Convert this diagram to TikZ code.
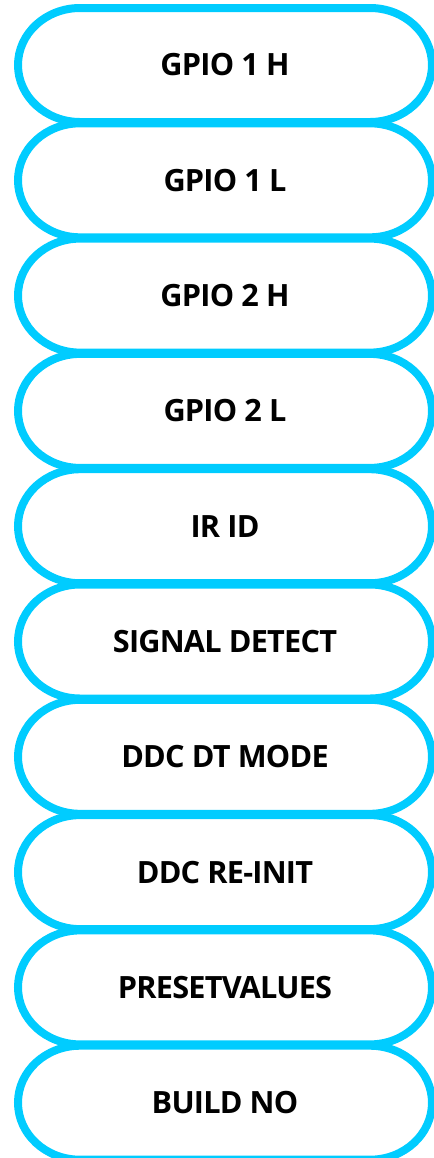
\documentclass[tikz,border=0pt]{standalone}
\usepackage{fontspec}
\setmainfont{Open Sans}
\newfontfamily\pillfont[LetterSpace=-2.5]{Open Sans}
\definecolor{pillblue}{RGB}{0,204,255}
\begin{document}
\begin{tikzpicture}[x=0.75pt,y=-0.75pt,
  pilltext/.style={inner sep=0pt, font=\pillfont\bfseries\fontsize{23}{27}\selectfont, text=black},
  pillline/.style={draw=pillblue, line width=6pt}]
\useasboundingbox (0,0) rectangle (433,1158);
\foreach \t [count=\i from 0] in {GPIO 1 H,GPIO 1 L,GPIO 2 H,GPIO 2 L,IR ID,SIGNAL DETECT,DDC DT MODE,DDC RE-INIT,PRESETVALUES,BUILD NO}{
  \pgfmathsetmacro{\cy}{65+115.3*\i}
  \draw[pillline] (80,\cy-57) -- (370,\cy-57)
     arc[start angle=90, end angle=-90, x radius=46.5pt, y radius=42.75pt]
     -- (80,\cy+57)
     arc[start angle=270, end angle=90, x radius=46.5pt, y radius=42.75pt] -- cycle;
  \node[pilltext] (p\i) at (225,\cy) {\t};
}
\end{tikzpicture}
\end{document}
